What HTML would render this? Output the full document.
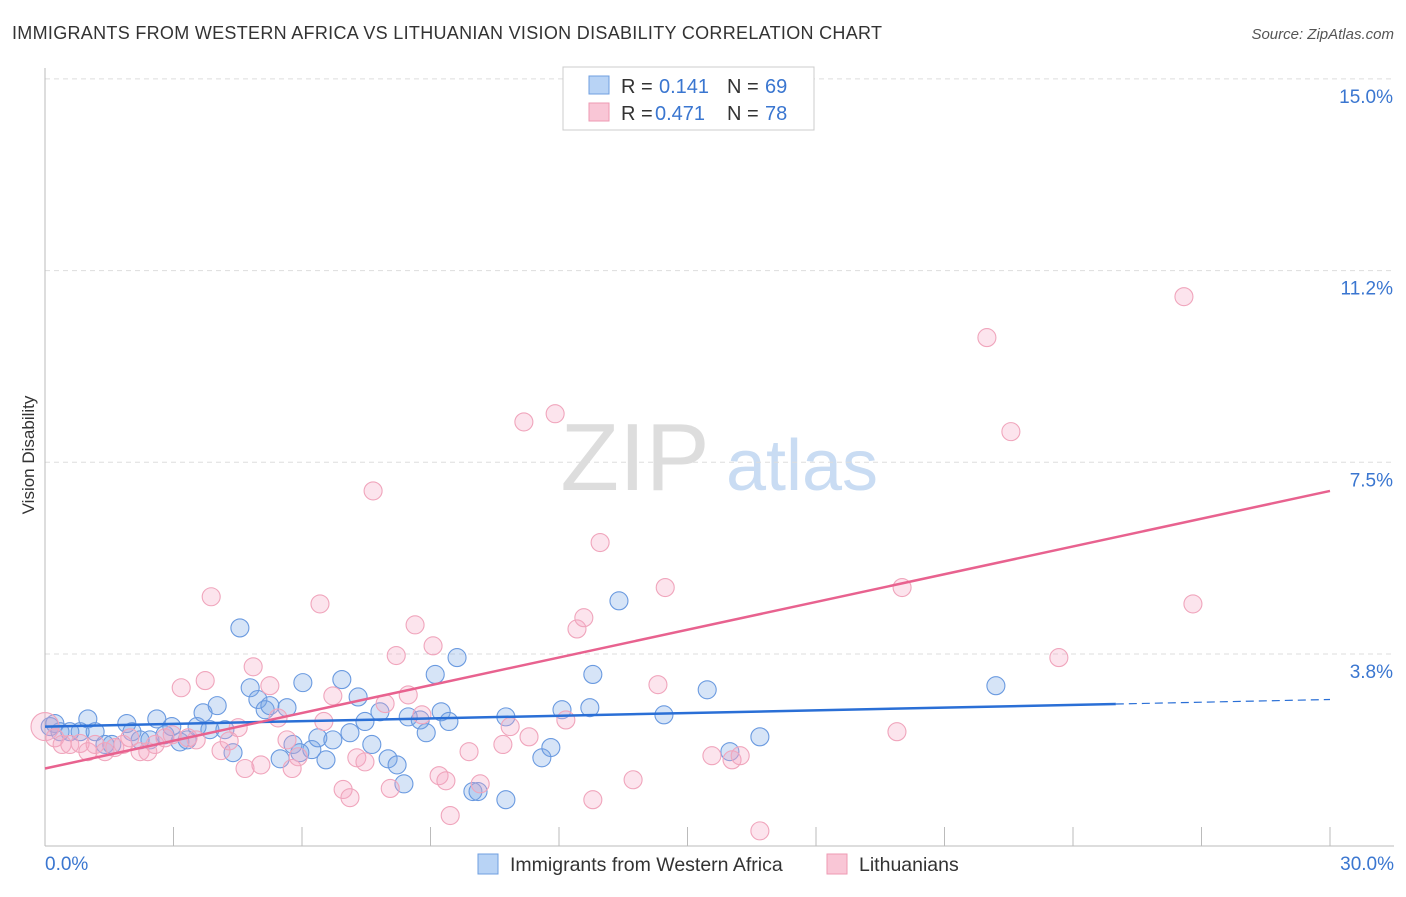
<!DOCTYPE html>
<html><head><meta charset="utf-8"><style>
body{margin:0;background:#fff;font-family:"Liberation Sans",sans-serif;}
svg text{font-family:"Liberation Sans",sans-serif;}
</style></head><body>
<svg width="1406" height="892">
<text x="12" y="39" font-size="18" fill="#333" textLength="870" lengthAdjust="spacing">IMMIGRANTS FROM WESTERN AFRICA VS LITHUANIAN VISION DISABILITY CORRELATION CHART</text>
<text x="1394" y="39" font-size="15" fill="#555" font-style="italic" text-anchor="end">Source: ZipAtlas.com</text>
<text x="34" y="455" font-size="17" fill="#333" text-anchor="middle" transform="rotate(-90 34 455)">Vision Disability</text>
<g>
<text x="635" y="490" font-size="96" fill="#ddd" text-anchor="middle" font-family="Liberation Serif,serif">ZIP</text>
<text x="802" y="490" font-size="72" fill="#c9dcf3" text-anchor="middle">atlas</text>
</g>
<g id="grid"></g><g id="axes"></g><g id="pts"></g><g id="lines"></g>
<g>
<rect x="563" y="67" width="251" height="63" fill="#fff" stroke="#ccc"/>
<rect x="589" y="76" width="20" height="18" fill="#b8d3f5" stroke="#6f9fe0"/>
<rect x="589" y="103" width="20" height="18" fill="#f9c6d6" stroke="#ee9ab3"/>
<text x="621" y="93" font-size="20" fill="#333">R =</text><text x="659" y="93" font-size="20" fill="#3a76d0">0.141</text>
<text x="727" y="93" font-size="20" fill="#333">N =</text><text x="765" y="93" font-size="20" fill="#3a76d0">69</text>
<text x="621" y="120" font-size="20" fill="#333">R =</text><text x="655" y="120" font-size="20" fill="#3a76d0">0.471</text>
<text x="727" y="120" font-size="20" fill="#333">N =</text><text x="765" y="120" font-size="20" fill="#3a76d0">78</text>
</g>
<g>
<rect x="478" y="854" width="20" height="20" fill="#b8d3f5" stroke="#6f9fe0"/>
<text x="510" y="871" font-size="19.5" fill="#333">Immigrants from Western Africa</text>
<rect x="827" y="854" width="20" height="20" fill="#f9c6d6" stroke="#ee9ab3"/>
<text x="859" y="871" font-size="19.5" fill="#333">Lithuanians</text>
</g>
</svg>
<script>
const blueX=[0.12,0.23,0.35,0.58,0.82,1.00,1.17,1.40,1.56,1.91,2.03,2.22,2.45,2.61,2.80,2.96,3.15,3.32,3.55,3.69,3.85,4.02,4.20,4.39,4.55,4.79,4.97,5.14,5.25,5.49,5.65,5.79,5.95,6.02,6.23,6.37,6.56,6.72,6.93,7.12,7.31,7.47,7.63,7.82,8.01,8.22,8.38,8.48,8.76,8.90,9.11,9.25,9.43,9.62,9.99,10.11,10.76,10.76,11.60,11.81,12.07,12.72,12.79,13.40,14.45,15.46,15.99,16.69,22.20];
const blueY=[2.33,2.39,2.23,2.23,2.23,2.48,2.23,1.98,1.98,2.39,2.23,2.07,2.07,2.48,2.17,2.33,2.03,2.07,2.33,2.60,2.27,2.74,2.27,1.82,4.26,3.09,2.86,2.66,2.74,1.70,2.70,1.98,1.82,3.19,1.88,2.11,1.68,2.07,3.25,2.21,2.91,2.43,1.98,2.62,1.70,1.58,1.21,2.52,2.46,2.21,3.35,2.62,2.43,3.68,1.06,1.06,2.52,0.90,1.72,1.92,2.66,2.70,3.35,4.79,2.56,3.05,1.84,2.13,3.13];
const pinkX=[0.00,0.23,0.40,0.58,0.82,1.00,1.17,1.40,1.63,1.82,1.98,2.22,2.40,2.57,2.80,2.97,3.18,3.34,3.53,3.74,3.88,4.11,4.30,4.51,4.67,4.86,5.04,5.25,5.44,5.65,5.77,5.91,6.42,6.51,6.72,6.96,7.12,7.28,7.47,7.66,7.94,8.06,8.20,8.48,8.64,8.80,9.06,9.20,9.36,9.46,9.90,10.16,10.69,10.86,11.18,11.30,11.91,12.16,12.42,12.58,12.79,12.96,13.73,14.31,14.48,15.57,16.04,16.23,16.69,19.89,20.01,21.99,22.55,23.67,26.59,26.80];
const pinkY=[2.33,2.11,1.98,1.98,2.00,1.84,1.98,1.84,1.92,1.98,2.11,1.84,1.84,1.98,2.11,2.17,3.09,2.11,2.07,3.23,4.87,1.86,2.05,2.31,1.51,3.50,1.58,3.13,2.50,2.07,1.51,1.74,4.73,2.43,2.93,1.10,0.94,1.72,1.64,6.94,2.78,1.12,3.72,2.95,4.32,2.56,3.91,1.37,1.27,0.59,1.84,1.21,1.98,2.33,8.29,2.13,8.45,2.46,4.24,4.46,0.90,5.93,1.29,3.15,5.05,1.76,1.68,1.76,0.29,2.23,5.05,9.94,8.10,3.68,10.74,4.73];
const yTicks=[15.0,11.25,7.5,3.75];
const yTickLabels=["15.0%","11.2%","7.5%","3.8%"];
const blueFit=[2.33,2.86];
const pinkFit=[1.51,6.94];
const NS='http://www.w3.org/2000/svg';
const X=v=>45+v/30*1285;
const Y=v=>845.7-v/3.75*191.7;
function mk(p,t,a){const e=document.createElementNS(NS,t);for(const k in a)e.setAttribute(k,a[k]);document.getElementById(p).appendChild(e);return e;}
yTicks.forEach((t,i)=>{
 const g=mk('grid','line',{x1:45,x2:1394,y1:Y(t),y2:Y(t),stroke:'#ddd','stroke-dasharray':'5,4'});
 
 
 const l=mk('grid','text',{x:1393,y:Y(t)+24,'font-size':19,fill:'#3a76d0','text-anchor':'end'});
 l.textContent=yTickLabels[i];
 
 
});
const ax=mk('axes','line',{x1:45,x2:45,y1:68,y2:846,stroke:'#bbb'});


const bx=mk('axes','line',{x1:45,x2:1394,y1:846,y2:846,stroke:'#bbb'});


for(let v=0;v<=30;v+=3){const t=mk('axes','line',{x1:X(v),x2:X(v),y1:827,y2:846,stroke:'#bbb'});
 
 }
const xl0=mk('axes','text',{x:45,y:870,'font-size':19,fill:'#3a76d0'});xl0.textContent='0.0%';


const xl1=mk('axes','text',{x:1394,y:870,'font-size':19,fill:'#3a76d0','text-anchor':'end'});xl1.textContent='30.0%';


blueX.forEach((v,i)=>{const c=mk('pts','circle',{cx:X(v),cy:Y(blueY[i]),r:9,fill:'rgba(120,165,230,0.3)',stroke:'#6a9ae0','stroke-width':1.1});
 
 });
pinkX.forEach((v,i)=>{const c=mk('pts','circle',{cx:X(v),cy:Y(pinkY[i]),r:i===0?14:9,fill:'rgba(244,165,195,0.3)',stroke:'#f0a5bc','stroke-width':1.1});
 
 });
const bs=25,bEnd=blueFit[0]+(blueFit[1]-blueFit[0])*bs/30;
const l1=mk('lines','line',{x1:X(0),y1:Y(blueFit[0]),x2:X(bs),y2:Y(bEnd),stroke:'#2a6fd6','stroke-width':2.5});


const l2=mk('lines','line',{x1:X(bs),y1:Y(bEnd),x2:X(30),y2:Y(blueFit[1]),stroke:'#2a6fd6','stroke-width':1.2,'stroke-dasharray':'8,5'});


const l3=mk('lines','line',{x1:X(0),y1:Y(pinkFit[0]),x2:X(30),y2:Y(pinkFit[1]),stroke:'#e8628f','stroke-width':2.5});


</script>
</body></html>
